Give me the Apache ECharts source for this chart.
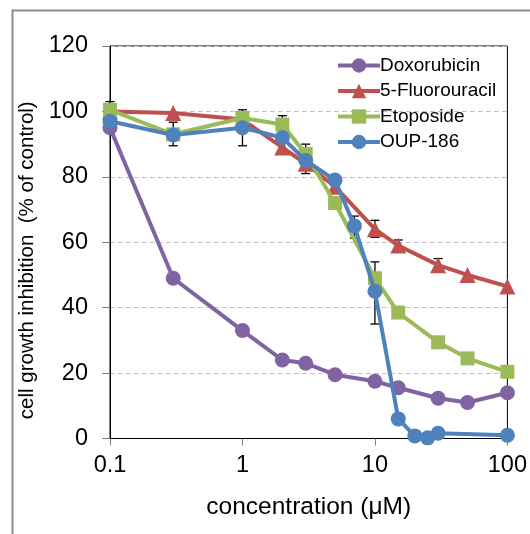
<!DOCTYPE html>
<html>
<head>
<meta charset="utf-8">
<script src="https://cdn.jsdelivr.net/npm/echarts@6/dist/echarts.min.js"></script>
<style>html,body{margin:0;padding:0;background:#fff}#c{width:530px;height:534px}</style>
</head>
<body>
<div id="c"></div>
<script>
const seriesNames = ['Doxorubicin', '5-Fluorouracil', 'Etoposide', 'OUP-186'];
const doxX = [0.1, 0.3, 1, 2, 3, 5, 10, 15, 30, 50, 100];
const doxY = [95, 49, 33, 24, 23, 19.5, 17.5, 15.5, 12.3, 11, 14];
const fuX = [0.1, 0.3, 1, 2, 3, 5, 10, 15, 30, 50, 100];
const fuY = [100, 99.5, 97.5, 89, 84, 77, 64, 59, 53, 50, 46.5];
const etoX = [0.1, 0.3, 1, 2, 3, 5, 10, 15, 30, 50, 100];
const etoY = [100.5, 93, 98, 96, 87, 72, 49, 38.5, 29.4, 24.5, 20.4];
const oupX = [0.1, 0.3, 1, 2, 3, 5, 7, 10, 15, 20, 25, 30, 100];
const oupY = [97, 92.8, 95, 92, 85, 79, 65, 45, 6, 0.8, 0.2, 1.6, 1];
const errX = [0.1, 0.3, 1, 2, 3, 7, 10, 10, 15, 30];
const errLow = [97, 89.5, 89.5, 93, 81, 61.3, 35, 61.5, 57.5, 51.5];
const errHigh = [103, 96.7, 100.5, 98.7, 90, 68, 54, 66.7, 60.7, 55];
const yTicks = [0, 20, 40, 60, 80, 100, 120];
const xTicks = [0.1, 1, 10, 100];

const colors = ['#8064A2', '#C0504D', '#9BBB59', '#4F81BD'];
const symbols = ['circle', 'triangle', 'rect', 'circle'];
const sizes = [15, 16, 14, 15];
const xs = [doxX, fuX, etoX, oupX];
const ys = [doxY, fuY, etoY, oupY];
const font = '"Liberation Sans", Arial, sans-serif';

const chart = echarts.init(document.getElementById('c'));
const lineSeries = seriesNames.map((n, i) => ({
  name: n,
  type: 'line',
  data: xs[i].map((x, j) => [x, ys[i][j]]),
  symbol: symbols[i],
  symbolSize: sizes[i],
  z: 3 + i,
  itemStyle: { color: colors[i] },
  lineStyle: { color: colors[i], width: 4 },
  animation: false
}));

const errSeries = {
  type: 'custom',
  z: 2,
  silent: true,
  data: errX.map((x, i) => [x, errLow[i], errHigh[i]]),
  renderItem: function (params, api) {
    const lo = api.coord([api.value(0), api.value(1)]);
    const hi = api.coord([api.value(0), api.value(2)]);
    const w = 4.5;
    const st = { stroke: '#000', lineWidth: 1.3 };
    return {
      type: 'group',
      children: [
        { type: 'line', shape: { x1: lo[0], y1: lo[1], x2: hi[0], y2: hi[1] }, style: st },
        { type: 'line', shape: { x1: lo[0] - w, y1: lo[1], x2: lo[0] + w, y2: lo[1] }, style: st },
        { type: 'line', shape: { x1: hi[0] - w, y1: hi[1], x2: hi[0] + w, y2: hi[1] }, style: st }
      ]
    };
  },
  animation: false
};

chart.setOption({
  animation: false,
  textStyle: { fontFamily: font },
  graphic: [{
    type: 'rect', left: 10, top: 8,
    shape: { width: 600, height: 600 },
    style: { fill: 'none', stroke: '#8c8c8c', lineWidth: 2 }
  }],
  grid: { left: 110, right: 22.5, top: 46, bottom: 95.5, show: true, borderColor: '#000', borderWidth: 1, backgroundColor: 'transparent' },
  legend: {
    orient: 'vertical',
    left: 331, top: 51,
    itemWidth: 42, itemHeight: 18, itemGap: 6.5,
    lineStyle: { width: 4 },
    textStyle: { fontSize: 19, color: '#000', fontFamily: font, lineHeight: 18, padding: [0, 0, 0, -5] },
    data: seriesNames
  },
  xAxis: {
    type: 'log', logBase: 10, min: xTicks[0], max: xTicks[xTicks.length - 1],
    name: 'concentration (μM)', nameLocation: 'middle', nameGap: 56,
    nameTextStyle: { fontSize: 24.5, color: '#000', fontFamily: font },
    axisLine: { lineStyle: { color: '#000', width: 1 } },
    axisTick: { show: true, length: 7, lineStyle: { color: '#808080' } },
    axisLabel: { fontSize: 23.5, color: '#000', margin: 15, fontFamily: font, formatter: v => String(v) },
    splitLine: { show: false }
  },
  yAxis: {
    type: 'value', min: yTicks[0], max: yTicks[yTicks.length - 1], interval: 20,
    name: 'cell growth inhibition  (% of control)', nameLocation: 'middle', nameGap: 64,
    nameTextStyle: { fontSize: 20.5, color: '#000', fontFamily: font, padding: [0, 36, 0, 0] },
    axisLine: { show: true, lineStyle: { color: '#000', width: 1 } },
    axisTick: { show: true, length: 8, lineStyle: { color: '#808080' } },
    axisLabel: { fontSize: 23.5, color: '#000', margin: 22, fontFamily: font },
    splitLine: { show: true, lineStyle: { color: '#c4c4c4', type: [5, 3], width: 1 } }
  },
  series: [errSeries].concat(lineSeries)
});
</script>
</body>
</html>
